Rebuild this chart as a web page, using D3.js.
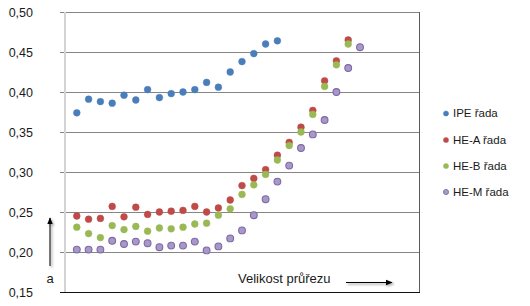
<!DOCTYPE html>
<html>
<head>
<meta charset="utf-8">
<script src="https://cdn.jsdelivr.net/npm/d3@7"></script>
<style>
  html, body { margin: 0; padding: 0; background: #ffffff; }
  svg { display: block; }
  text { font-family: "Liberation Sans", "DejaVu Sans", sans-serif; fill: #1a1a1a; }
</style>
</head>
<body>
<svg id="chart" width="530" height="306"></svg>
<script>
// ---- data ----
const seriesNames = ["IPE řada", "HE-A řada", "HE-B řada", "HE-M řada"];
const ipeValues = [0.374, 0.391, 0.388, 0.386, 0.396, 0.390, 0.403, 0.393, 0.398, 0.400,
                   0.403, 0.412, 0.406, 0.425, 0.438, 0.448, 0.460, 0.464];
const heaValues = [0.245, 0.241, 0.242, 0.257, 0.244, 0.256, 0.247, 0.250, 0.251, 0.252,
                   0.257, 0.250, 0.255, 0.265, 0.283, 0.292, 0.303, 0.321, 0.337, 0.356,
                   0.377, 0.414, 0.439, 0.465];
const hebValues = [0.231, 0.223, 0.218, 0.233, 0.228, 0.232, 0.226, 0.230, 0.229, 0.231,
                   0.235, 0.236, 0.246, 0.254, 0.272, 0.284, 0.297, 0.315, 0.333, 0.350,
                   0.372, 0.407, 0.434, 0.460];
const hemValues = [0.203, 0.203, 0.203, 0.214, 0.210, 0.213, 0.211, 0.206, 0.208, 0.208,
                   0.213, 0.202, 0.207, 0.217, 0.227, 0.246, 0.266, 0.288, 0.308, 0.330,
                   0.347, 0.365, 0.400, 0.430, 0.456];
const yTicks = [0.15, 0.20, 0.25, 0.30, 0.35, 0.40, 0.45, 0.50];
const xDomain = [0, 30];
const yAxisLabel = "a";
const xAxisLabel = "Velikost průřezu";

(function () {
const styles = [
  { fill: "#4a7ebb", stroke: "#4a7ebb" },
  { fill: "#be4b48", stroke: "#be4b48" },
  { fill: "#98b954", stroke: "#98b954" },
  { fill: "#a898c6", stroke: "#7c68a6" }
];
const allSeries = [ipeValues, heaValues, hebValues, hemValues];

// ---- layout ----
const svg = d3.select("#chart");
const pl = 65, pr = 419, pt = 12, pb = 292;
const x = d3.scaleLinear().domain(xDomain).range([pl, pr]);
const y = d3.scaleLinear().domain([0.15, 0.50]).range([pb, pt]);
const fmt = v => d3.format(".2f")(v).replace(".", ",");

// gridlines
svg.append("g")
  .selectAll("line")
  .data(yTicks.filter(t => t > 0.15))
  .join("line")
  .attr("x1", pl - 5).attr("x2", pr)
  .attr("y1", d => Math.round(y(d)) + 0.5).attr("y2", d => Math.round(y(d)) + 0.5)
  .attr("stroke", "#868686").attr("stroke-width", 1);

// left axis line (light)
svg.append("line")
  .attr("x1", pl).attr("x2", pl)
  .attr("y1", pt).attr("y2", pb)
  .attr("stroke", "#d4d4d4").attr("stroke-width", 2);

// right border
svg.append("line")
  .attr("x1", pr + 0.5).attr("x2", pr + 0.5)
  .attr("y1", pt).attr("y2", pb)
  .attr("stroke", "#5a5a5a").attr("stroke-width", 1);

// bottom axis
svg.append("line")
  .attr("x1", pl - 5).attr("x2", pr + 1)
  .attr("y1", pb + 0.5).attr("y2", pb + 0.5)
  .attr("stroke", "#111").attr("stroke-width", 1.2);

// y tick labels
svg.append("g")
  .selectAll("text")
  .data(yTicks)
  .join("text")
  .attr("x", 33)
  .attr("y", d => y(d) + 1.5)
  .attr("text-anchor", "end")
  .attr("dominant-baseline", "middle")
  .style("font-size", "12.5px")
  .text(fmt);

// shadow filter + arrowheads
const defs = svg.append("defs");
defs.append("filter").attr("id", "blur")
  .attr("filterUnits", "userSpaceOnUse")
  .attr("x", 0).attr("y", 0).attr("width", 530).attr("height", 306)
  .append("feGaussianBlur").attr("stdDeviation", 1.3);
function addMarker(id, color) {
  defs.append("marker").attr("id", id).attr("viewBox", "0 0 10 10").attr("refX", 9).attr("refY", 5)
    .attr("markerWidth", 7).attr("markerHeight", 7).attr("markerUnits", "userSpaceOnUse").attr("orient", "auto")
    .append("path").attr("d", "M0,1 L10,5 L0,9 Z").attr("fill", color);
}
addMarker("ah", "#000");
addMarker("ahs", "#777");

function arrow(x1, y1, x2, y2) {
  svg.append("line")
    .attr("x1", x1 + 1.5).attr("y1", y1 + 1.5).attr("x2", x2 + 1.5).attr("y2", y2 + 1.5)
    .attr("stroke", "#777").attr("stroke-width", 1.5).attr("opacity", 0.6)
    .attr("marker-end", "url(#ahs)").attr("filter", "url(#blur)");
  svg.append("line")
    .attr("x1", x1).attr("y1", y1).attr("x2", x2).attr("y2", y2)
    .attr("stroke", "#000").attr("stroke-width", 1)
    .attr("marker-end", "url(#ah)");
}

// vertical arrow "a"
arrow(50, 266, 50, 218);
svg.append("text")
  .attr("x", 50).attr("y", 283)
  .attr("text-anchor", "middle")
  .style("font-size", "13px")
  .text(yAxisLabel);

// x label + horizontal arrow
svg.append("text")
  .attr("x", 238).attr("y", 283)
  .style("font-size", "13px")
  .text(xAxisLabel);
arrow(346, 282.5, 392, 282.5);

// points
allSeries.forEach((vals, si) => {
  svg.append("g")
    .selectAll("circle")
    .data(vals)
    .join("circle")
    .attr("cx", (d, i) => x(i + 1))
    .attr("cy", d => y(d))
    .attr("r", 3.4)
    .attr("fill", styles[si].fill)
    .attr("stroke", styles[si].stroke)
    .attr("stroke-width", si === 3 ? 1.1 : 0.5);
});

// legend
const legendY = [113.5, 140, 166, 192];
const lg = svg.append("g");
seriesNames.forEach((name, i) => {
  lg.append("circle")
    .attr("cx", 446).attr("cy", legendY[i])
    .attr("r", 2.6)
    .attr("fill", styles[i].fill)
    .attr("stroke", styles[i].stroke)
    .attr("stroke-width", i === 3 ? 0.8 : 0.4);
  lg.append("text")
    .attr("x", 453).attr("y", legendY[i] + 0.5)
    .attr("dominant-baseline", "middle")
    .style("font-size", "11.5px")
    .text(name);
});
})();
</script>
</body>
</html>
